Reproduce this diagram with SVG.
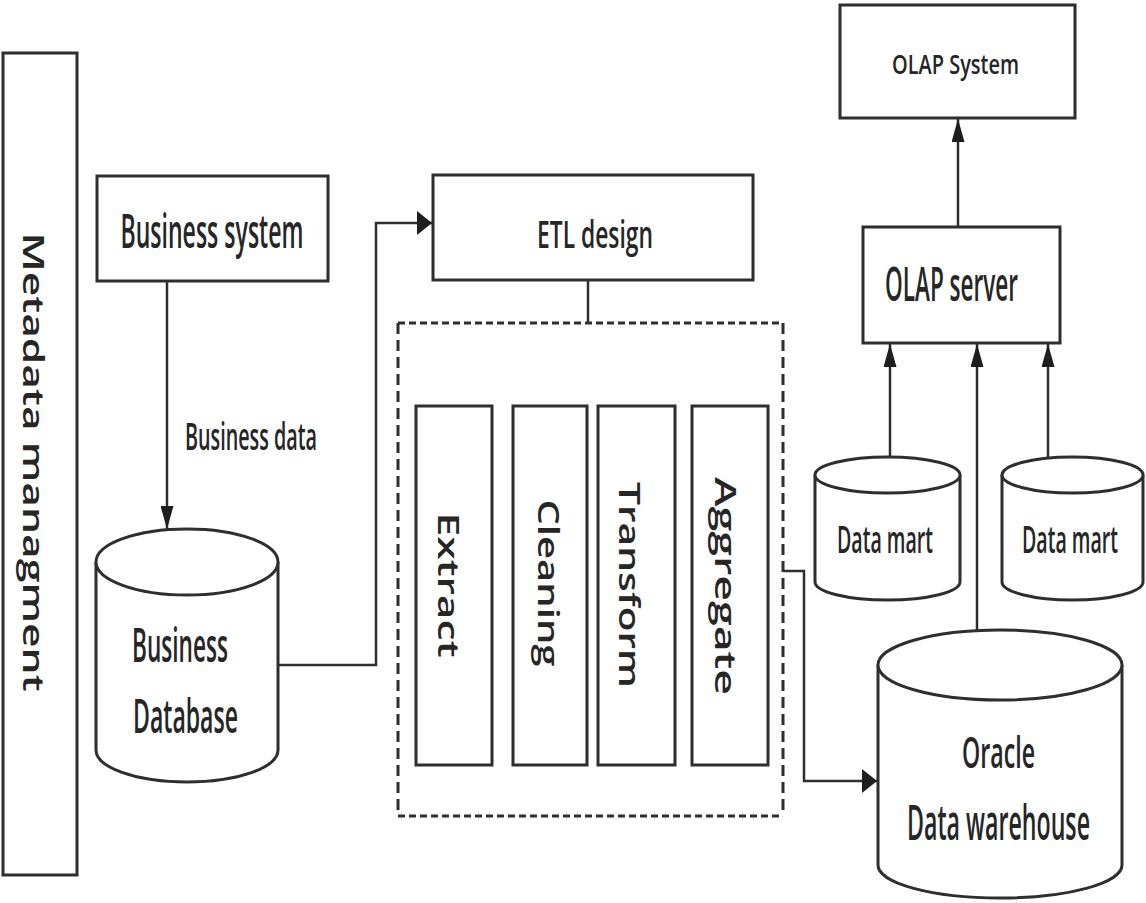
<svg xmlns="http://www.w3.org/2000/svg" width="1146" height="903" viewBox="0 0 1146 903">
  <style>
    .box { fill: #ffffff; stroke: #2e2e2e; stroke-width: 3; }
    .cyl { fill: #ffffff; stroke: #2e2e2e; stroke-width: 3; }
    .dash-h { stroke: #2e2e2e; stroke-width: 3; stroke-dasharray: 7 4; fill: none; }
    .dash-v { stroke: #2e2e2e; stroke-width: 3; stroke-dasharray: 11 6; fill: none; }
    .wire { fill: none; stroke: #2e2e2e; stroke-width: 2.5; }
    .lbl { font-family: "Open Sans", "Noto Sans", "Liberation Sans", sans-serif; font-weight: 600; fill: #262626; text-anchor: middle; }
    .rot { font-family: "Open Sans", "Noto Sans", "Liberation Sans", sans-serif; font-weight: 600; fill: #262626; text-anchor: middle; font-size: 28px; }
  </style>
  <defs>
    <!-- arrowheads: tall ones for vertical runs, squat ones for horizontal runs -->
    <marker id="ah-v" markerUnits="userSpaceOnUse" markerWidth="23" markerHeight="13" refX="23" refY="6.5" orient="auto" viewBox="0 0 23 13">
      <path d="M0,0 L23,6.5 L0,13 z" fill="#1e1e1e"/>
    </marker>
    <marker id="ah-h" markerUnits="userSpaceOnUse" markerWidth="15" markerHeight="24" refX="15" refY="12" orient="auto" viewBox="0 0 15 24">
      <path d="M0,0 L15,12 L0,24 z" fill="#1e1e1e"/>
    </marker>
  </defs>

  <rect width="1146" height="903" fill="#ffffff"/>

  <!-- connectors -->
  <g id="connectors">
    <path class="wire" d="M167,281 V529" marker-end="url(#ah-v)"/>
    <path class="wire" d="M278,665 H376 V223 H432" marker-end="url(#ah-h)"/>
    <path class="wire" d="M588,280 V323"/>
    <path class="wire" d="M783,571 H804 V781 H877" marker-end="url(#ah-h)"/>
    <path class="wire" d="M890,457 V344" marker-end="url(#ah-v)"/>
    <path class="wire" d="M977,630 V344" marker-end="url(#ah-v)"/>
    <path class="wire" d="M1048,457 V344" marker-end="url(#ah-v)"/>
    <path class="wire" d="M958,227 V119" marker-end="url(#ah-v)"/>
  </g>

  <g id="metadata">
    <rect class="box" x="3" y="53" width="74" height="822"/>
    <text class="rot" transform="translate(23,462) rotate(90)" textLength="459" lengthAdjust="spacingAndGlyphs">Metadata managment</text>
  </g>

  <!-- upright labels are set in a tall, narrow cut: small size stretched vertically -->
  <g id="business-system">
    <rect class="box" x="97" y="176" width="231" height="105"/>
    <text class="lbl" transform="translate(212,248) scale(1,1.85)" font-size="25" textLength="183" lengthAdjust="spacingAndGlyphs">Business system</text>
  </g>

  <g id="business-data-label">
    <text class="lbl" transform="translate(251,450) scale(1,1.85)" font-size="20.4" textLength="132" lengthAdjust="spacingAndGlyphs">Business data</text>
  </g>

  <g id="business-database">
    <path class="cyl" d="M96,562 V750 A91,32 0 0 0 278,750 V562"/>
    <ellipse class="cyl" cx="187" cy="562" rx="91" ry="33"/>
    <text class="lbl" transform="translate(180,662) scale(1,1.85)" font-size="25.7" textLength="96" lengthAdjust="spacingAndGlyphs">Business</text>
    <text class="lbl" transform="translate(185.5,733) scale(1,1.85)" font-size="25.7" textLength="105" lengthAdjust="spacingAndGlyphs">Database</text>
  </g>

  <g id="etl-design">
    <rect class="box" x="433" y="175" width="320" height="105"/>
    <text class="lbl" transform="translate(595,248) scale(1,1.85)" font-size="20.4" textLength="116" lengthAdjust="spacingAndGlyphs">ETL design</text>
  </g>

  <g id="etl-steps">
    <line class="dash-h" x1="398" y1="323" x2="783" y2="323"/>
    <line class="dash-h" x1="398" y1="816" x2="783" y2="816"/>
    <line class="dash-v" x1="398" y1="323" x2="398" y2="816"/>
    <line class="dash-v" x1="783" y1="323" x2="783" y2="816"/>
  </g>

  <g id="extract">
    <rect class="box" x="416" y="406" width="76" height="359"/>
    <text class="rot" transform="translate(438,585) rotate(90)" textLength="145" lengthAdjust="spacingAndGlyphs">Extract</text>
  </g>
  <g id="cleaning">
    <rect class="box" x="513" y="406" width="74" height="359"/>
    <text class="rot" transform="translate(538,583) rotate(90)" textLength="167" lengthAdjust="spacingAndGlyphs">Cleaning</text>
  </g>
  <g id="transform">
    <rect class="box" x="598" y="406" width="77" height="359"/>
    <text class="rot" transform="translate(619,585) rotate(90)" textLength="206" lengthAdjust="spacingAndGlyphs">Transform</text>
  </g>
  <g id="aggregate">
    <rect class="box" x="692" y="406" width="76" height="359"/>
    <text class="rot" transform="translate(715,586) rotate(90)" textLength="218" lengthAdjust="spacingAndGlyphs">Aggregate</text>
  </g>

  <g id="olap-system">
    <rect class="box" x="840" y="5" width="235" height="113"/>
    <text class="lbl" transform="translate(955.5,74) scale(1,1.2)" font-size="22" textLength="127" lengthAdjust="spacingAndGlyphs">OLAP System</text>
  </g>

  <g id="olap-server">
    <rect class="box" x="863" y="227" width="197" height="116"/>
    <text class="lbl" transform="translate(951.5,301) scale(1,1.85)" font-size="25.7" textLength="133" lengthAdjust="spacingAndGlyphs">OLAP server</text>
  </g>

  <g id="data-mart-1">
    <path class="cyl" d="M815,475 V582 A72.5,18 0 0 0 960,582 V475"/>
    <ellipse class="cyl" cx="887.5" cy="475" rx="72.5" ry="18"/>
    <text class="lbl" transform="translate(885,553) scale(1,1.85)" font-size="20.4" textLength="96" lengthAdjust="spacingAndGlyphs">Data mart</text>
  </g>

  <g id="data-mart-2">
    <path class="cyl" d="M1002,475 V582 A70.5,18 0 0 0 1143,582 V475"/>
    <ellipse class="cyl" cx="1072.5" cy="475" rx="70.5" ry="18"/>
    <text class="lbl" transform="translate(1070,553) scale(1,1.85)" font-size="20.4" textLength="96" lengthAdjust="spacingAndGlyphs">Data mart</text>
  </g>

  <g id="data-warehouse">
    <path class="cyl" d="M878,665 V865 A122,33 0 0 0 1122,865 V665"/>
    <ellipse class="cyl" cx="1000" cy="665" rx="122" ry="35"/>
    <text class="lbl" transform="translate(998.5,768) scale(1,1.85)" font-size="23.5" textLength="73" lengthAdjust="spacingAndGlyphs">Oracle</text>
    <text class="lbl" transform="translate(998.5,840) scale(1,1.85)" font-size="26.5" textLength="183" lengthAdjust="spacingAndGlyphs">Data warehouse</text>
  </g>
</svg>
